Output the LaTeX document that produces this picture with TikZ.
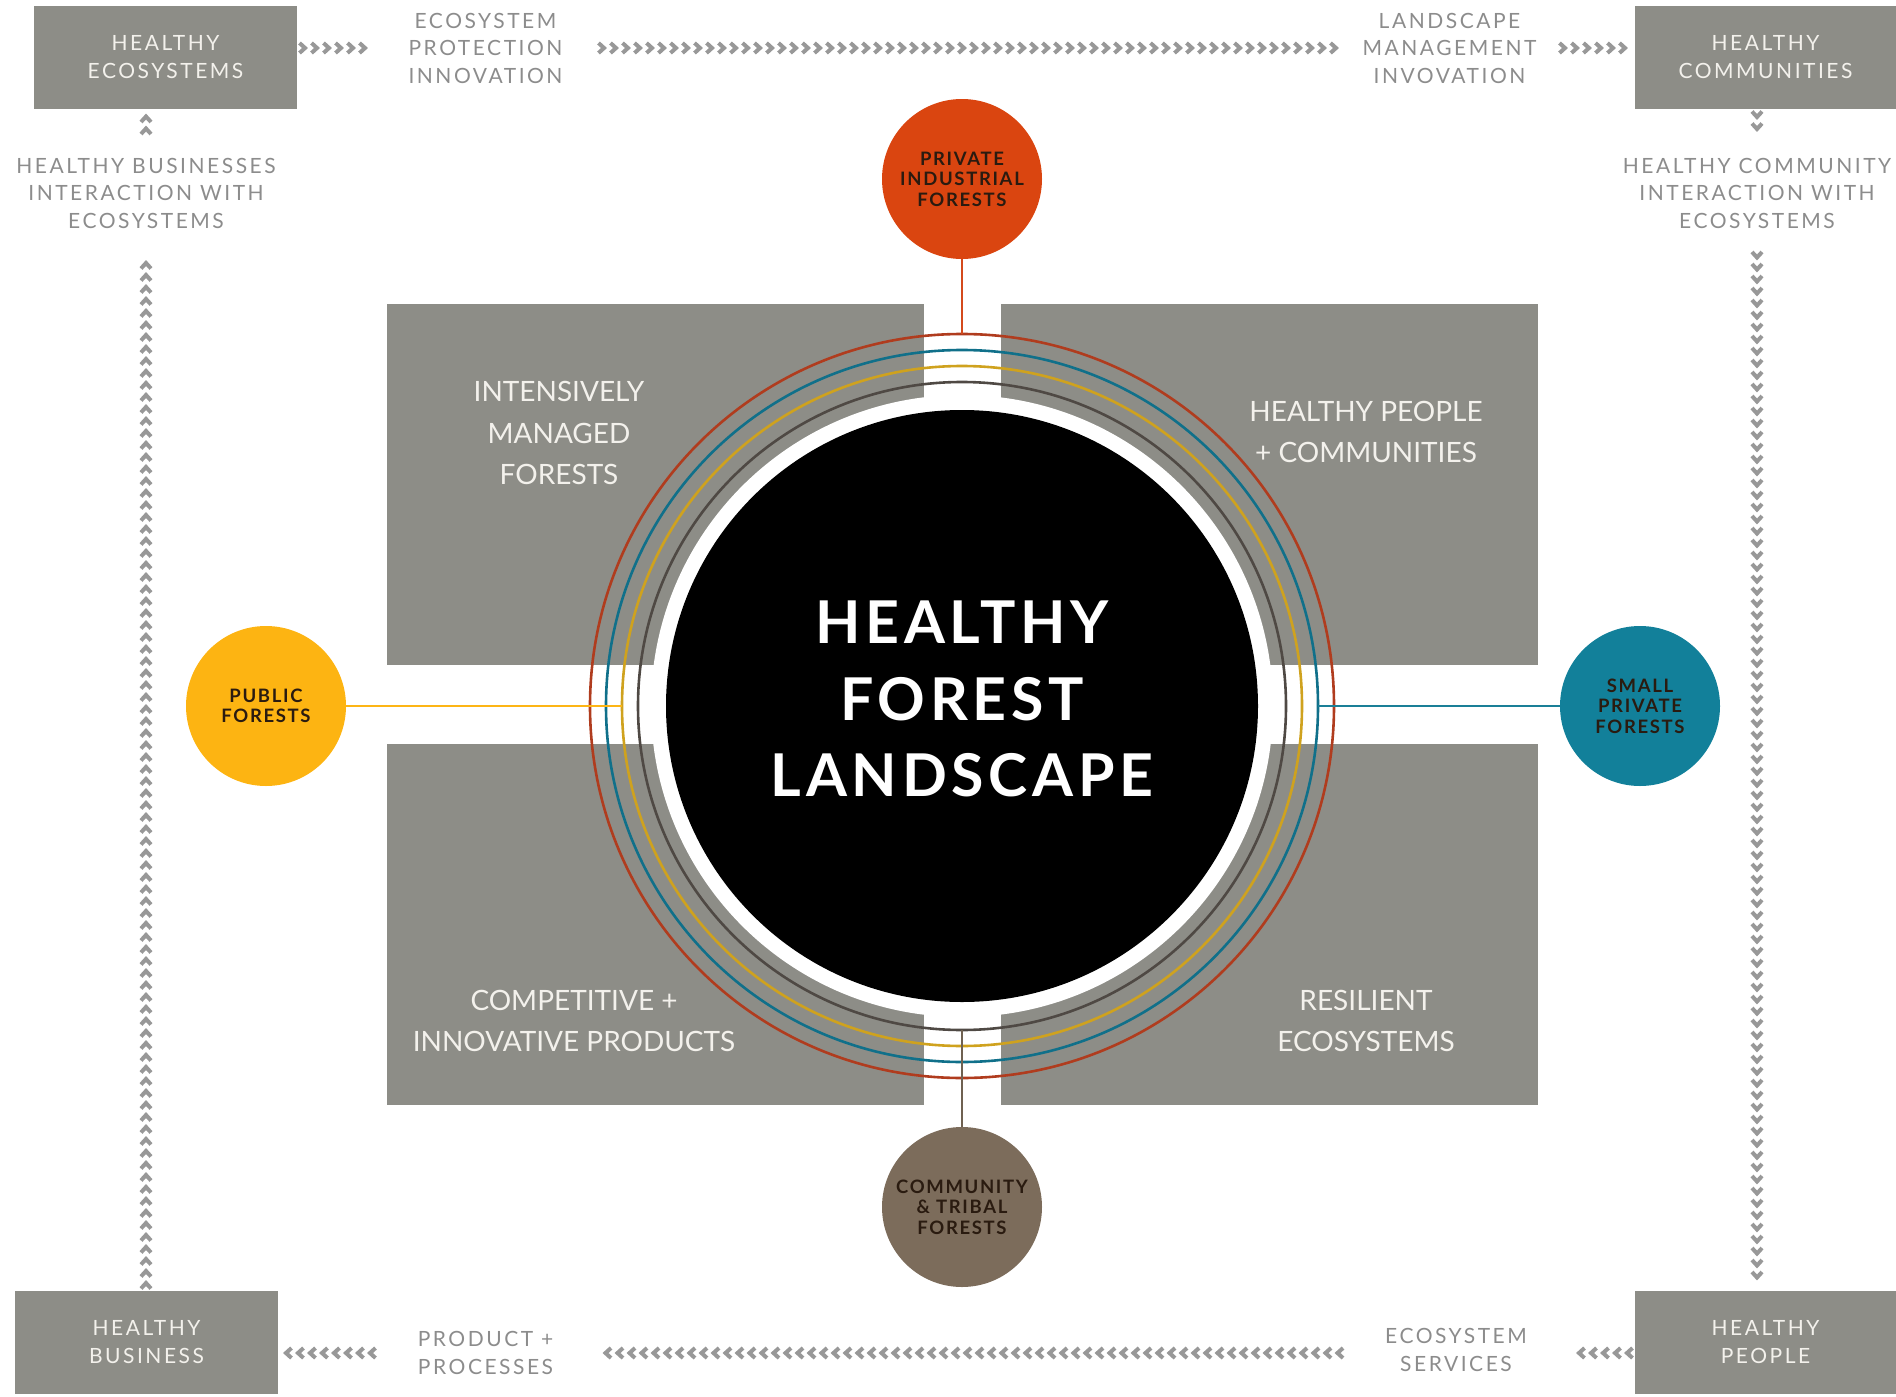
\documentclass[tikz,border=0pt]{standalone}
\usepackage{fontspec}
\setmainfont{Lato}
\newfontfamily\lspfont[LetterSpace=12]{Lato}
\newfontfamily\circfont[LetterSpace=9]{Lato}
\newfontfamily\titlefont[LetterSpace=8]{Lato}
\usetikzlibrary{decorations.markings}
\definecolor{boxgray}{HTML}{8D8D87}
\definecolor{boxtext}{HTML}{F3F1EC}
\definecolor{labelgray}{HTML}{8C8C8C}
\definecolor{chevgray}{HTML}{989898}
\definecolor{ringred}{HTML}{B03C1E}
\definecolor{ringteal}{HTML}{10708A}
\definecolor{ringgold}{HTML}{CFA21E}
\definecolor{ringdark}{HTML}{4F4944}
\definecolor{conred}{HTML}{D44A1C}
\definecolor{conyellow}{HTML}{FDB515}
\definecolor{conteal}{HTML}{1A7F97}
\definecolor{conbrown}{HTML}{6F6151}
\definecolor{pifcol}{HTML}{DA4510}
\definecolor{pubcol}{HTML}{FDB412}
\definecolor{spfcol}{HTML}{12809A}
\definecolor{ctfcol}{HTML}{7C6C5B}
\definecolor{circtext}{HTML}{2A1B10}
\begin{document}
\begin{tikzpicture}[x=1pt,y=-1pt,
  cornerbox/.style={fill=boxgray, draw=none, minimum width=263pt, minimum height=103pt,
    inner sep=0pt, outer sep=0pt, text=boxtext, align=center,
    font=\lspfont\fontsize{21}{28}\selectfont},
  flowlabel/.style={text=labelgray, align=center, inner sep=0pt, outer sep=0pt,
    font=\lspfont\fontsize{21}{27.5}\selectfont},
  chevmark/.style={line width=4pt, draw=chevgray, line join=miter, line cap=butt},
  chevrons/.style={decoration={markings,
      mark=between positions 0 and 1 step 12pt with {\draw[chevmark] (-3.5pt,-5pt) -- (2pt,0pt) -- (-3.5pt,5pt);}},
    postaction=decorate},
  quad/.style={fill=boxgray, draw=none, minimum width=537pt, minimum height=361pt, inner sep=0pt, outer sep=0pt},
  quadtext/.style={text=boxtext, align=center, inner sep=0pt, font=\fontsize{28}{41.5}\selectfont},
  ring/.style={circle, inner sep=0pt, outer sep=0pt, line width=2.6pt, fill=none},
  forest/.style={circle, inner sep=0pt, outer sep=0pt, minimum size=160pt, text=circtext,
    align=center, font=\circfont\bfseries\fontsize{18.5}{20.5}\selectfont},
  conn/.style={line width=2.8pt}
]
\useasboundingbox (0,0) rectangle (1896,1397);

% corner boxes
\node[cornerbox] (he) at (165.5,57.5) {HEALTHY\\ECOSYSTEMS};
\node[cornerbox, minimum width=261pt] (hc) at (1765.5,57.5) {HEALTHY\\COMMUNITIES};
\node[cornerbox] (hb) at (146.5,1342.5) {HEALTHY\\BUSINESS};
\node[cornerbox, minimum width=261pt] (hp) at (1765.5,1342.5) {HEALTHY\\PEOPLE};

% flow labels
\node[flowlabel, minimum width=221pt] (epi) at (485.5,48) {ECOSYSTEM\\PROTECTION\\INNOVATION};
\node[flowlabel, minimum width=221pt] (lmi) at (1449.5,48) {LANDSCAPE\\MANAGEMENT\\INVOVATION};
\node[flowlabel, minimum width=221pt] (pp) at (485.5,1353) {PRODUCT +\\PROCESSES};
\node[flowlabel, minimum width=221pt] (es) at (1456,1350) {ECOSYSTEM\\SERVICES};
\node[flowlabel, minimum height=119pt] (hbi) at (146,193) {HEALTHY BUSINESSES\\INTERACTION WITH\\ECOSYSTEMS};
\node[flowlabel, minimum height=119pt] (hci) at (1757,193) {HEALTHY COMMUNITY\\INTERACTION WITH\\ECOSYSTEMS};

% chevron chains (clockwise)
\path[chevrons] ([xshift=6pt]he.east |- epi.west) -- ([xshift=-3pt]epi.west);
\path[chevrons] ([xshift=6pt]epi.east) -- ([xshift=-3pt]lmi.west);
\path[chevrons] ([xshift=3pt]lmi.east) -- ([xshift=-6pt]hc.west |- lmi.east);
\path[chevrons] ([yshift=-6pt]hc.south -| hci.north) -- ([yshift=3pt]hci.north);
\path[chevrons] ([yshift=-3pt]hci.south) -- ([yshift=6pt]hp.north -| hci.south);
\path[chevrons] ([xshift=-6pt]hp.west |- pp.east) -- ([xshift=3pt]es.east |- pp.east);
\path[chevrons] ([xshift=-6pt]es.west |- pp.east) -- ([xshift=3pt]pp.east);
\path[chevrons] ([xshift=-3pt]pp.west) -- ([xshift=6pt]hb.east |- pp.west);
\path[chevrons] ([yshift=6pt]hb.north -| hbi.south) -- ([yshift=-3pt]hbi.south);
\path[chevrons] ([yshift=3pt]hbi.north) -- ([yshift=-6pt]he.south -| hbi.north);

% quadrants
\node[quad] (qtl) at (655.5,484.5) {};
\node[quad] (qtr) at (1269.5,484.5) {};
\node[quad] (qbl) at (655.5,924.5) {};
\node[quad] (qbr) at (1269.5,924.5) {};
\node[quadtext] (ttl) at (559,433) {INTENSIVELY\\MANAGED\\FORESTS};
\node[quadtext] (ttr) at (1366,432) {HEALTHY PEOPLE\\+ COMMUNITIES};
\node[quadtext] (tbl) at (574,1021) {COMPETITIVE +\\INNOVATIVE PRODUCTS};
\node[quadtext] (tbr) at (1366,1021) {RESILIENT\\ECOSYSTEMS};

% central disc
\coordinate (c) at (962,706);
\node[circle, fill=white, inner sep=0pt, minimum size=622pt] (wd) at (c) {};
\node[circle, fill=black, inner sep=0pt, minimum size=592pt] (core) at (c) {};
\node[text=white, align=center, inner sep=0pt, font=\titlefont\bfseries\fontsize{59}{76.5}\selectfont] (title) at (962,699) {HEALTHY\\FOREST\\LANDSCAPE};

% rings
\node[ring, draw=ringred, minimum size=744pt] (rred) at (c) {};
\node[ring, draw=ringteal, minimum size=712pt] (rteal) at (c) {};
\node[ring, draw=ringgold, minimum size=680pt] (rgold) at (c) {};
\node[ring, draw=ringdark, minimum size=648pt] (rdark) at (c) {};

% forest circles
\node[forest, fill=pifcol] (pif) at (962,179) {PRIVATE\\INDUSTRIAL\\FORESTS};
\node[forest, fill=pubcol] (pub) at (266,706) {PUBLIC\\FORESTS};
\node[forest, fill=spfcol] (spf) at (1640,706) {SMALL\\PRIVATE\\FORESTS};
\node[forest, fill=ctfcol] (ctf) at (962,1207) {COMMUNITY\\\& TRIBAL\\FORESTS};

% connectors
\draw[conn, conred] (pif.south) -- (rred.north);
\draw[conn, conyellow] (pub.east) -- (rgold.west);
\draw[conn, conteal] (spf.west) -- (rteal.east);
\draw[conn, conbrown] (ctf.north) -- (rdark.south);
\end{tikzpicture}
\end{document}
